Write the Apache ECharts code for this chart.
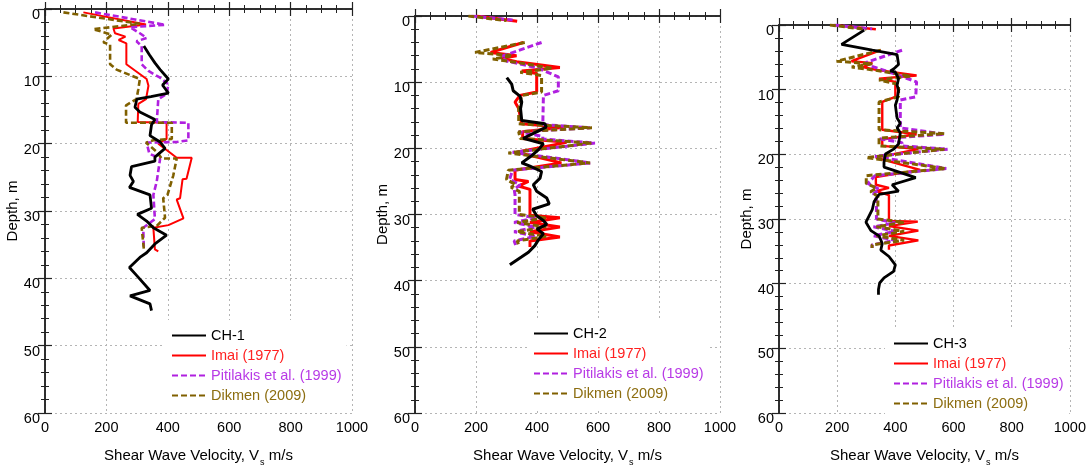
<!DOCTYPE html>
<html><head><meta charset="utf-8">
<script src="https://cdn.jsdelivr.net/npm/echarts@6/dist/echarts.min.js"></script>
<style>html,body{margin:0;padding:0;background:#fff}#c{width:1089px;height:472px}</style>
</head><body><div id="c"></div>
<script>
// ---- data: [Vs (m/s), depth (m)], null = break in the profile ----
const ch1 = [[322,5.5],[340,6.8],[358,8],[375,9],[402,10.4],[383,11.3],[391,11.8],[402,12.5],[345,13],[299,13.4],[293,14.6],[309,15.3],[358,16.4],[347,17.2],[342,18.8],[375,19.75],[391,20.7],[358,22],[358,22.6],[282,23.4],[277,24.7],[288,25.6],[275,26.5],[342,27.6],[347,29.6],[301,30.5],[331,31.5],[353,32.5],[396,33.6],[358,34.9],[331,36.2],[309,36.9],[275,38.4],[299,39.6],[342,41.8],[277,42.6],[342,43.8],[347,44.8]];
const imai1 = [[125,0.5],[329,2.3],[223,2.9],[228,3.6],[262,4.1],[240,4.6],[265,5.1],[265,8.2],[331,10.4],[337,11.4],[329,13.4],[304,14.1],[302,16.8],[396,16.9],[396,19.3],[369,20],[429,22.1],[478,22.1],[461,25.2],[448,25.3],[440,28.1],[429,28.3],[451,31.1],[402,32.1],[353,32.5],[358,35.7],[369,36]];
const pitilakis1 = [[163,0.5],[391,2.35],[277,2.7],[309,3.6],[331,4.3],[298,4.8],[315,5.5],[315,8.2],[337,9.2],[375,10.2],[402,11.2],[396,12.6],[369,13.4],[364,16.8],[467,16.9],[467,19.5],[429,19.75],[331,19.85],[340,21.5],[375,22.2],[364,25.6],[353,27.6],[358,31.2],[320,32.5],[322,35.7]];
const dikmen1 = [[60,0.5],[309,2.2],[157,3.0],[217,3.8],[190,4.95],[212,5.3],[212,8.2],[233,9],[309,10.4],[304,11.9],[298,13.4],[264,14.3],[264,16.9],[413,16.9],[413,19.3],[353,19.5],[329,19.85],[364,21.2],[380,22.2],[429,22.2],[418,24.7],[399,27.6],[385,28.1],[391,31],[364,32.2],[315,32.5],[322,35.7]];

const ch2 = [[301,9.3],[317,10.3],[322,11.3],[344,12.1],[350,13],[346,14],[350,15.8],[426,16.3],[430,16.8],[355,18.5],[421,19.3],[405,20.2],[380,21.2],[350,22.2],[377,22.7],[415,23.5],[410,24.5],[388,25.5],[399,26.5],[432,27.5],[440,28.4],[386,29.2],[399,30.2],[421,30.9],[432,31.5],[400,32.2],[421,32.9],[405,33.8],[393,34.7],[372,35.7],[350,36.4],[311,37.6]];
const imai2 = [[200,0],[335,0.8],null,[355,4.0],[248,5.5],[333,6.0],[284,6.4],[333,6.9],[475,7.8],[350,8.3],[399,8.7],[399,11.5],[344,12],[328,13],[340,14],[350,16.3],[487,16.8],[353,17.5],[353,18.5],[497,19.1],[333,20.6],[480,22.2],[328,23.3],[328,24.7],[372,25],[339,25.7],[377,26.2],[377,30.1],[475,30.5],[377,31.2],[475,31.9],[377,32.6],[475,33.4],[377,34],[377,34.9]];
const pitilakis2 = [[185,0],[320,0.6],null,[415,4.0],[284,6.1],[300,6.8],[399,7.8],[470,9.2],[470,11.3],[421,12],[419,16.4],[574,16.9],[340,17.5],[419,18.2],[419,18.6],[590,19.2],[320,20.6],[575,22.2],[320,23.3],[310,24.7],[345,25.5],[325,26.2],[328,27],[328,30],[395,30.5],[325,31.2],[395,31.9],[325,32.6],[395,33.3],[325,34],[330,34.6]];
const dikmen2 = [[175,0],[300,0.7],null,[360,4.0],[197,5.5],[320,6.0],[255,6.5],[330,7.0],[450,7.9],[345,8.5],[415,9],[415,11.5],[350,12],[345,13],[340,14],[340,16.3],[580,16.9],[340,17.5],[345,18.5],[579,19.2],[306,20.7],[574,22.2],[306,23.3],[300,24.7],[330,25.5],[315,25.9],[342,26.5],[342,30],[430,30.5],[335,31.2],[430,31.9],[335,32.6],[430,33.3],[335,34],[340,34.6]];

const ch3 = [[293,0.8],[215,3.0],[321,3.9],[383,4.4],[406,4.6],[411,6.1],[394,6.8],[383,7.1],[400,7.3],[411,8.3],[406,9.3],[411,10.1],[406,11.6],[400,12.4],[406,14.4],[417,15.2],[406,15.9],[417,16.7],[411,18.4],[394,19.2],[366,19.95],[361,21.2],[361,21.97],[470,23.6],[389,24.7],[411,25.7],[344,26.2],[327,27.3],[321,28.5],[299,30.5],[316,31.8],[344,32.6],[355,33.8],[350,34.8],[378,35.8],[400,37.1],[394,38.1],[361,39.1],[346,39.9],[342,40.9],[342,41.7]];
const imai3 = [[186,0],[333,0.65],null,[350,3.9],[249,5.6],[321,5.9],[288,6.5],[330,6.9],[473,7.8],[344,8.3],[400,8.8],[400,11.1],[355,11.9],[355,16.2],[473,16.9],[355,17.7],[355,18.7],[479,19.2],[333,20.5],[485,22.4],[333,23.5],[333,24.7],[378,25.2],[333,25.7],[378,26.3],[378,30.3],[477,30.4],[378,31.1],[479,31.8],[378,32.6],[479,33.3],[378,34.1],[378,34.75]];
const pitilakis3 = [[190,0],[320,0.6],null,[423,3.9],[299,5.8],[320,6.4],[400,7.6],[473,8.8],[470,11.1],[417,11.6],[417,15.9],[569,16.9],[345,17.6],[423,18.2],[423,18.7],[580,19.2],[330,20.3],[575,22.2],[330,23.3],[305,24.5],[345,25.4],[325,26.1],[335,27],[335,30],[400,30.6],[325,31.2],[400,31.9],[325,32.6],[400,33.3],[320,34],[320,34.5]];
const dikmen3 = [[175,0],[300,0.7],null,[350,3.9],[198,5.6],[320,6.0],[250,6.5],[330,7.0],[453,7.9],[344,8.5],[411,9.2],[411,11.1],[344,11.9],[344,16.2],[569,16.8],[344,17.5],[344,18.7],[569,19.2],[300,20.5],[574,22.2],[300,23.3],[300,24.5],[335,25.2],[315,25.8],[340,26.5],[340,30],[430,30.5],[335,31.2],[430,31.9],[335,32.6],[430,33.3],[320,34],[320,34.5]];

const boreholes = ['CH-1','CH-2','CH-3'];
const methods = ['Imai (1977)','Pitilakis et al. (1999)','Dikmen (2009)'];
const xTitle = 'Shear Wave Velocity, V';
const yTitle = 'Depth, m';
const xMin = 0, xMax = 1000, xStep = 200;
const yMin = 0, yMax = 60, yStep = 10;

const panelsData = [[ch1, imai1, pitilakis1, dikmen1],[ch2, imai2, pitilakis2, dikmen2],[ch3, imai3, pitilakis3, dikmen3]];

// ---- layout / style ----
const FONT = '"Liberation Sans", Arial, Helvetica, sans-serif';
const panels = [
  {left:45, top:9, width:307, height:408, lg:[162,320], lgPad:[8,5,8,9], w:[2.8,2,2.6,2.6], yGap:21},
  {left:415, top:16, width:305, height:402, lg:[528,318], lgPad:[8,5,8,5], w:[3,3,3,3], yGap:19.5},
  {left:779, top:25, width:295, height:396, lg:[885,328], lgPad:[8,5,8,8], w:[2.8,2.4,3,3], yGap:20.5}
];
const lineColors = ['#000000','#ff0000','#b020e0','#806000'];
const textColors = ['#000000','#ff2020','#b83ae6','#8c6d10'];
const lineTypes = ['solid','solid',[6,3],[6,3]];

const grid = [], xAxis = [], yAxis = [], series = [], legend = [];
const axisLine = {show:true, lineStyle:{color:'#222', width:1.5}};
const gridLine = {show:true, lineStyle:{color:'#b5b5b5', type:[2,3], width:1}};
const tick = {show:true, inside:false, length:-7, lineStyle:{color:'#222', width:1.2}};
panels.forEach((p, i) => {
  grid.push({left:p.left, top:p.top, width:p.width, height:p.height, containLabel:false});
  const base = {type:'value', min:xMin, max:xMax, interval:xStep, gridIndex:i, axisLine,
    axisTick:tick,
    minorTick:{show:true, splitNumber:4, length:-4, lineStyle:{color:'#222', width:1}}};
  xAxis.push(Object.assign({}, base, {position:'bottom',
    axisLabel:{show:true, fontSize:14.5, color:'#000', fontFamily:FONT, margin:7, formatter: v => String(v)},
    splitLine:gridLine,
    name:'{a|' + xTitle + '}{s|s}{a| m/s}', nameLocation:'middle', nameGap:31,
    nameTextStyle:{rich:{a:{fontSize:15, color:'#000', fontFamily:FONT}, s:{fontSize:9, color:'#000', fontFamily:FONT, padding:[14,0,0,1]}}}}));
  xAxis.push(Object.assign({}, base, {position:'top', axisLabel:{show:false}, splitLine:{show:false}}));
  const ybase = {type:'value', min:yMin, max:yMax, interval:yStep, inverse:true, gridIndex:i, axisLine,
    axisTick:tick,
    minorTick:{show:true, splitNumber:5, length:-4, lineStyle:{color:'#222', width:1}}};
  yAxis.push(Object.assign({}, ybase, {position:'left',
    axisLabel:{show:true, fontSize:14.5, color:'#000', fontFamily:FONT, margin:5, verticalAlign:'top', lineHeight:12, formatter: v => String(v)},
    splitLine:gridLine,
    name:yTitle, nameLocation:'middle', nameGap:p.yGap,
    nameTextStyle:{fontSize:15, color:'#000', fontFamily:FONT}}));
  yAxis.push(Object.assign({}, ybase, {position:'right', axisLabel:{show:false}, splitLine:{show:false}}));

  const names = [boreholes[i]].concat(methods).map(n => n + '#' + (i + 1));
  panelsData[i].forEach((arr, k) => {
    series.push({
      name: names[k], type:'line', xAxisIndex:2*i, yAxisIndex:2*i,
      data: arr.map(pt => pt === null ? ['-','-'] : pt),
      symbol:'none', showSymbol:false, connectNulls:false, silent:true, animation:false,
      lineStyle:{color:lineColors[k], width:p.w[k], type:lineTypes[k]},
      itemStyle:{color:lineColors[k]}, z: k === 0 ? 3 : 2
    });
  });
  legend.push({orient:'vertical', left:p.lg[0], top:p.lg[1], padding:p.lgPad, backgroundColor:'#fff',
    itemWidth:34, itemHeight:14, itemGap:5, selectedMode:false,
    itemStyle:{opacity:0},
    textStyle:{fontSize:14.5, fontFamily:FONT},
    formatter: n => n.split('#')[0],
    data: names.map((n, k) => ({name:n, textStyle:{color:textColors[k]}}))});
});

const chart = echarts.init(document.getElementById('c'), null, {renderer:'canvas'});
chart.setOption({animation:false, backgroundColor:'#fff', grid, xAxis, yAxis, series, legend});
</script></body></html>
